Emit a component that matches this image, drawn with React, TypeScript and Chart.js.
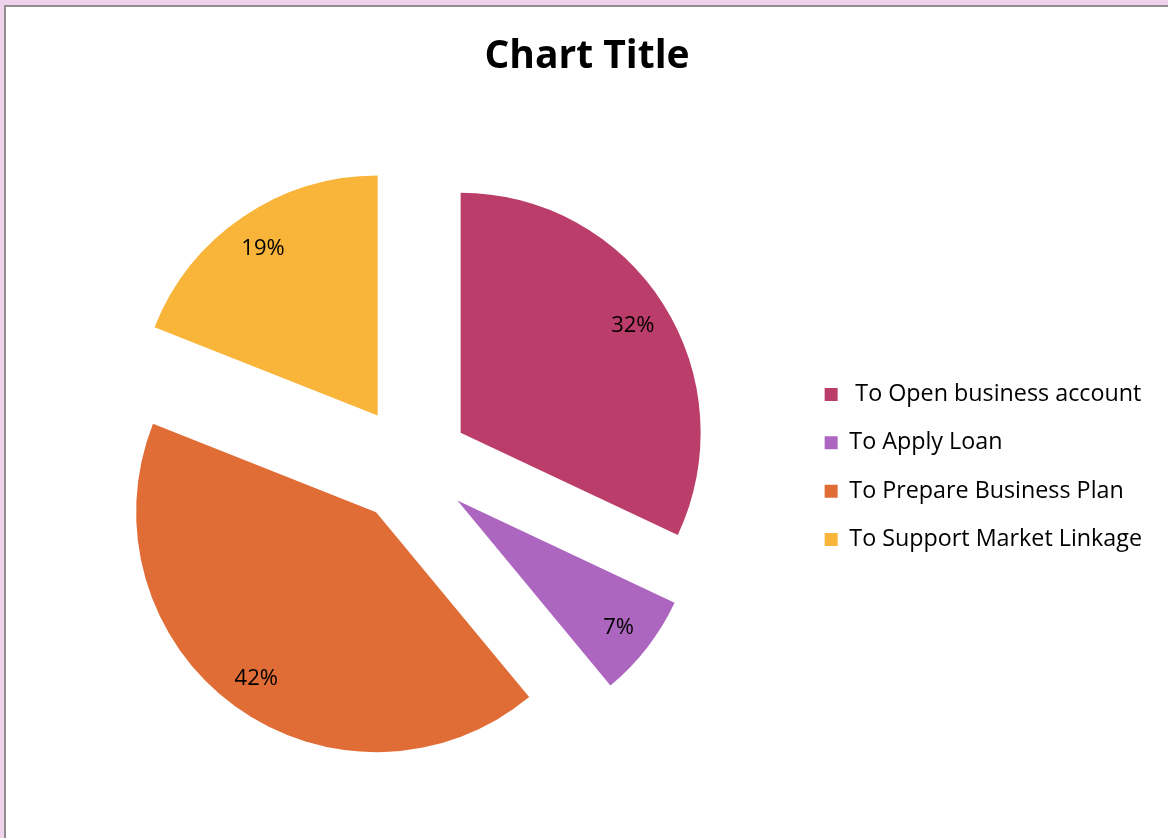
import React, { useEffect, useRef } from "react";
import { Chart, registerables } from "chart.js";

Chart.register(...registerables);

const categories = [" To Open business account", "To Apply Loan", "To Prepare Business Plan", "To Support Market Linkage"];
const percentValues = [32, 7, 42, 19];
const sliceColors = ["#BB3D69", "#AD66C0", "#E06C36", "#F9B43A"];
const chartTitle = "Chart Title";

const FONT = "'Open Sans', sans-serif";
const EXPLODE = 59;
const LABEL_POS = 0.85;

const explodePlugin = {
  id: "explode",
  afterDatasetsUpdate(chart: any) {
    const meta = chart.getDatasetMeta(0);
    meta.data.forEach((arc: any) => {
      const mid = (arc.startAngle + arc.endAngle) / 2;
      arc.x += Math.cos(mid) * EXPLODE;
      arc.y += Math.sin(mid) * EXPLODE;
    });
  },
};

const labelPlugin = {
  id: "pctLabels",
  afterDatasetsDraw(chart: any) {
    const ctx = chart.ctx;
    const meta = chart.getDatasetMeta(0);
    ctx.save();
    ctx.font = `22px ${FONT}`;
    ctx.fillStyle = "#000";
    ctx.textAlign = "center";
    ctx.textBaseline = "middle";
    meta.data.forEach((arc: any, i: number) => {
      const mid = (arc.startAngle + arc.endAngle) / 2;
      const r = arc.outerRadius * LABEL_POS;
      ctx.fillText(`${percentValues[i]}%`, arc.x + Math.cos(mid) * r, arc.y + Math.sin(mid) * r + 2);
    });
    ctx.restore();
  },
};

export default function App() {
  const ref = useRef<HTMLCanvasElement | null>(null);
  useEffect(() => {
    if (!ref.current) return;
    const chart = new Chart(ref.current, {
      type: "pie",
      data: {
        labels: categories,
        datasets: [
          {
            data: percentValues,
            backgroundColor: sliceColors,
            borderWidth: 0,
            radius: 240,
          } as any,
        ],
      },
      options: {
        responsive: false,
        animation: false,
        events: [],
        layout: { padding: { top: 33, bottom: 9, left: 22, right: 16 } },
        plugins: {
          title: {
            display: true,
            text: chartTitle,
            color: "#000",
            font: { size: 39, weight: "bold", family: FONT },
            padding: { top: 0, bottom: 20 },
          },
          legend: {
            position: "right",
            title: {
              display: true,
              text: "",
              font: { size: 10, family: FONT },
              padding: { top: 32, bottom: 28 },
            },
            labels: {
              boxWidth: 13,
              boxHeight: 13,
              padding: 25,
              color: "#000",
              font: { size: 23.3, family: FONT },
            },
          },
          tooltip: { enabled: false },
        },
      },
      plugins: [explodePlugin, labelPlugin],
    });
    return () => chart.destroy();
  }, []);

  return (
    <div style={{ position: "fixed", left: 0, top: 0, width: 1168, height: 838, background: "#EED3EA", overflow: "hidden" }}>
      <div
        style={{
          position: "absolute",
          left: 4,
          top: 5,
          right: 0,
          bottom: 0,
          background: "#fff",
          borderTop: "2px solid #8F8F8F",
          borderLeft: "2px solid #8F8F8F",
        }}
      />
      <canvas ref={ref} width={1168} height={838} style={{ position: "absolute", left: 0, top: 0 }} />
    </div>
  );
}
